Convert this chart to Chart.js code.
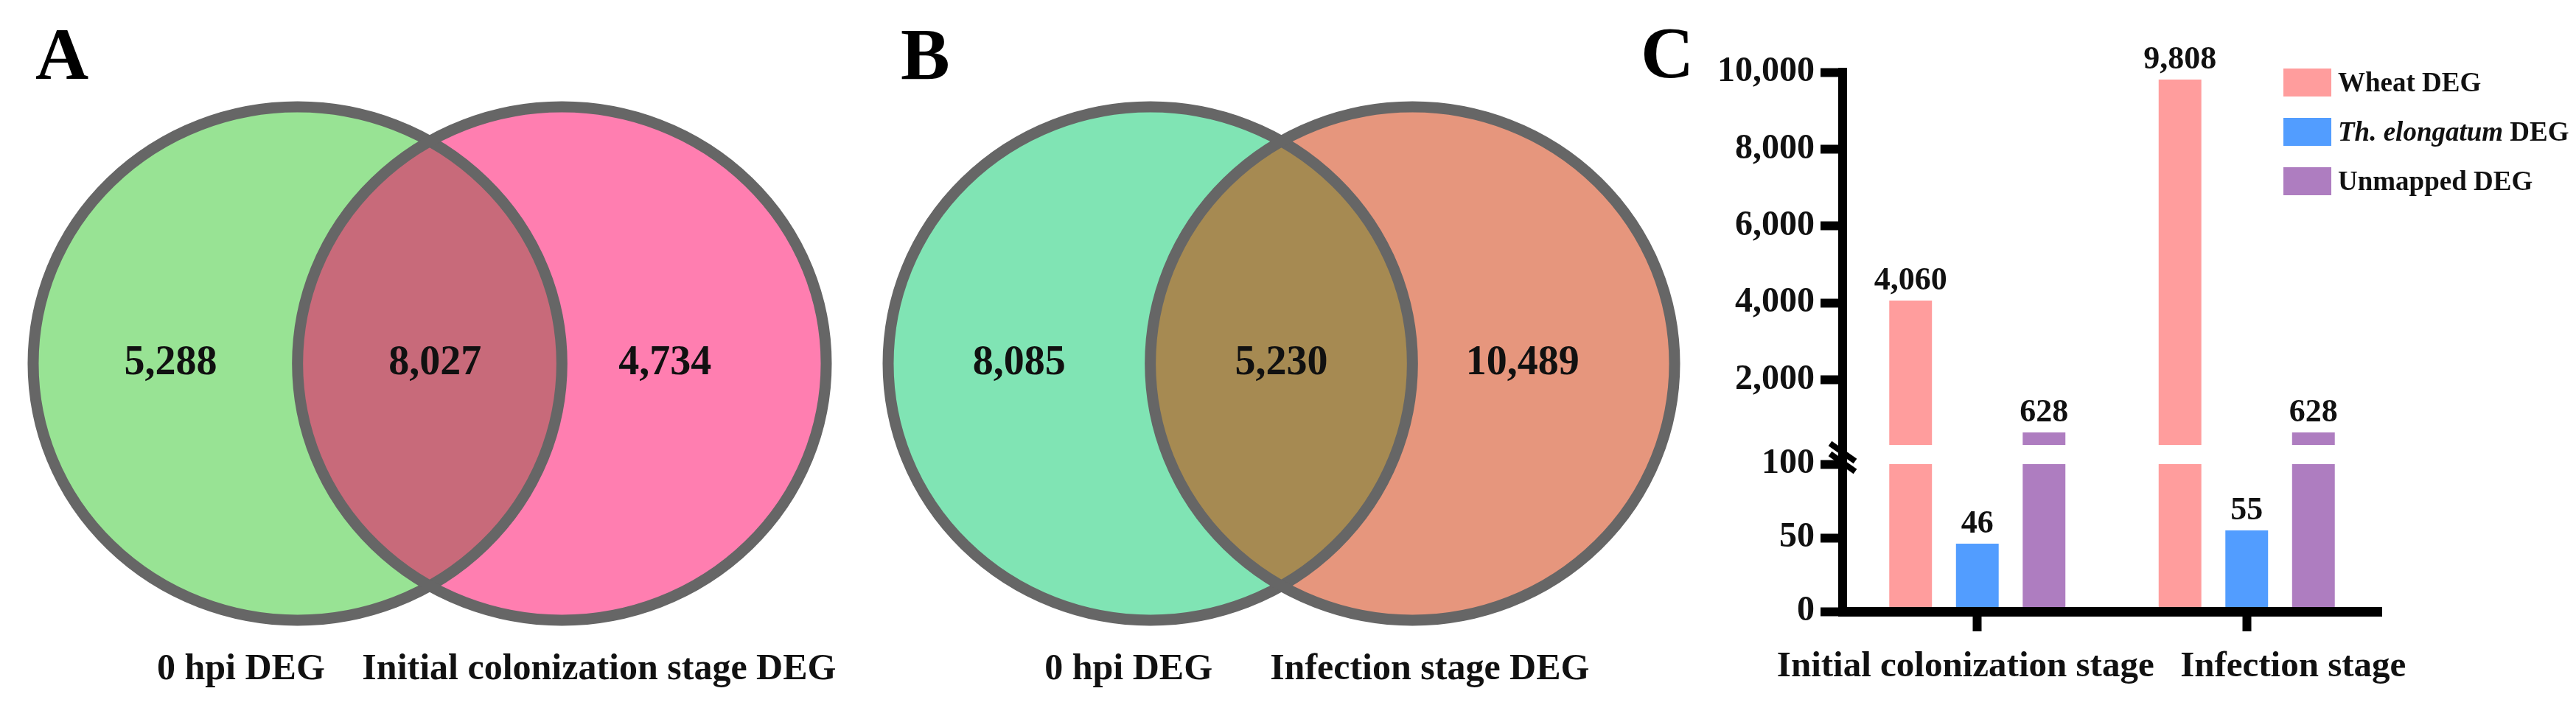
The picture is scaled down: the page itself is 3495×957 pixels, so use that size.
<!DOCTYPE html>
<html>
<head>
<meta charset="utf-8">
<script src="https://cdn.jsdelivr.net/npm/chart.js@4.4.1/dist/chart.umd.min.js"></script>
<style>
  html, body { margin: 0; padding: 0; background: #fff; width: 3495px; height: 957px; overflow: hidden; }
  .box { position: absolute; top: 0; }
  .letter { position: absolute; font-family: 'Liberation Serif', 'Times New Roman', serif; font-weight: bold; font-size: 100px; line-height: 100px; color: #000; }
</style>
</head>
<body>
<div class="letter" style="left:48px; top:24px;">A</div>
<div class="letter" style="left:1222px; top:24px;">B</div>
<div class="letter" style="left:2226px; top:22px;">C</div>
<div class="box" style="left:0px; width:1190px; height:957px;"><canvas id="vennA" width="1190" height="957"></canvas></div>
<div class="box" style="left:1190px; width:1100px; height:957px;"><canvas id="vennB" width="1100" height="957"></canvas></div>
<div class="box" style="left:2290px; width:1205px; height:957px;"><canvas id="bars" width="1205" height="957"></canvas></div>
<script>
// ---------------- DATA ----------------
// Venn A: [only 0 hpi, shared, only Initial colonization stage]
const vennA_sets = ['0 hpi DEG', 'Initial colonization stage DEG'];
const vennA_counts = [5288, 8027, 4734];
// Venn B: [only 0 hpi, shared, only Infection stage]
const vennB_sets = ['0 hpi DEG', 'Infection stage DEG'];
const vennB_counts = [8085, 5230, 10489];

// Bar chart C
const categories = ['Initial colonization stage', 'Infection stage'];
const seriesNames = ['Wheat DEG', 'Th. elongatum DEG', 'Unmapped DEG'];
const wheatDEG = [4060, 9808];
const elongatumDEG = [46, 55];
const unmappedDEG = [628, 628];
const yTickValues = [0, 50, 100, 2000, 4000, 6000, 8000, 10000];
const yTickLabels = ['0', '50', '100', '2,000', '4,000', '6,000', '8,000', '10,000'];

// ---------------- STYLE / LAYOUT ----------------
const SERIF = "'Liberation Serif', 'Times New Roman', serif";
const fmt = v => v.toLocaleString('en-US');

// ---------- Venn plugin (geometry in unit-radius data space via the chart's scales) ----------
function vennPlugin(cfg) {
  return {
    id: 'venn_' + cfg.key,
    afterDraw(chart) {
      const { ctx, scales: { x, y } } = chart;
      const rx = Math.abs(x.getPixelForValue(1) - x.getPixelForValue(0));
      const ry = Math.abs(y.getPixelForValue(1) - y.getPixelForValue(0));
      const cy = y.getPixelForValue(0);
      const cL = x.getPixelForValue(-0.5);
      const cR = x.getPixelForValue(0.5);
      const ell = (cx) => { ctx.beginPath(); ctx.ellipse(cx, cy, rx, ry, 0, 0, Math.PI * 2); };
      ctx.save();
      ell(cL); ctx.fillStyle = cfg.colors[0]; ctx.fill();
      ell(cR); ctx.fillStyle = cfg.colors[2]; ctx.fill();
      ctx.save(); ell(cL); ctx.clip(); ell(cR); ctx.fillStyle = cfg.colors[1]; ctx.fill(); ctx.restore();
      ctx.lineWidth = cfg.stroke; ctx.strokeStyle = cfg.strokeColor;
      ell(cL); ctx.stroke(); ell(cR); ctx.stroke();
      // counts
      ctx.fillStyle = '#111';
      ctx.font = 'bold 56px ' + SERIF;
      ctx.textAlign = 'center'; ctx.textBaseline = 'middle';
      cfg.counts.forEach((c, i) => {
        ctx.fillText(fmt(c), x.getPixelForValue(cfg.countX[i]), y.getPixelForValue(0));
      });
      // set labels
      ctx.font = 'bold 50px ' + SERIF;
      ctx.textBaseline = 'alphabetic';
      cfg.sets.forEach((s, i) => {
        ctx.fillText(s, x.getPixelForValue(cfg.labelX[i]), y.getPixelForValue(cfg.labelY));
      });
      ctx.restore();
    }
  };
}

function makeVenn(id, pad, cfg) {
  return new Chart(document.getElementById(id), {
    type: 'scatter',
    data: { datasets: [] },
    options: {
      responsive: false, animation: false, events: [], devicePixelRatio: 1,
      layout: { padding: pad },
      scales: {
        x: { type: 'linear', display: false, min: -1.5, max: 1.5 },
        y: { type: 'linear', display: false, min: -1, max: 1 }
      },
      plugins: { legend: { display: false }, tooltip: { enabled: false } }
    },
    plugins: [vennPlugin(cfg)]
  });
}

makeVenn('vennA', { left: 45, right: 69, top: 145, bottom: 115 }, {
  key: 'A', sets: vennA_sets, counts: vennA_counts,
  colors: ['#98E394', '#C86A7A', '#FF7EB0'], stroke: 15, strokeColor: '#666666',
  countX: [-0.98, 0.02, 0.89], labelX: [-0.714, 0.641], labelY: -1.23
});
makeVenn('vennB', { left: 15, right: 18, top: 145, bottom: 115 }, {
  key: 'B', sets: vennB_sets, counts: vennB_counts,
  colors: ['#80E4B4', '#A68A52', '#E6967D'], stroke: 15, strokeColor: '#666666',
  countX: [-1.0, 0.0, 0.92], labelX: [-0.583, 0.566], labelY: -1.23
});

// ---------- Broken y axis scale ----------
const breakCfg = { lowMax: 100, highMin: 300, lowFrac: 0.2732, gapFrac: 0.0355 };
class BrokenScale extends Chart.LinearScale {
  buildTicks() { return yTickValues.map(v => ({ value: v })); }
  getPixelForValue(v) {
    const b = breakCfg, top = this.top, bottom = this.bottom, h = bottom - top;
    const lowH = h * b.lowFrac, gapH = h * b.gapFrac, highH = h - lowH - gapH;
    if (v <= b.lowMax) return bottom - (v - this.min) / (b.lowMax - this.min) * lowH;
    if (v < b.highMin) return bottom - lowH - (v - b.lowMax) / (b.highMin - b.lowMax) * gapH;
    return bottom - lowH - gapH - (v - b.highMin) / (this.max - b.highMin) * highH;
  }
  getValueForPixel(p) {
    const b = breakCfg, top = this.top, bottom = this.bottom, h = bottom - top;
    const lowH = h * b.lowFrac, gapH = h * b.gapFrac, highH = h - lowH - gapH;
    const d = bottom - p;
    if (d <= lowH) return this.min + d / lowH * (b.lowMax - this.min);
    if (d <= lowH + gapH) return b.lowMax + (d - lowH) / gapH * (b.highMin - b.lowMax);
    return b.highMin + (d - lowH - gapH) / highH * (this.max - b.highMin);
  }
}
BrokenScale.id = 'broken';
BrokenScale.defaults = Chart.LinearScale.defaults;
Chart.register(BrokenScale);

const barColors = ['#FF9D9D', '#529DFF', '#AE7DC0'];
const xLabelShift = [-16, 63];
const italicPart = { 1: 'Th. elongatum' };

const barExtras = {
  id: 'barExtras',
  afterDatasetsDraw(chart) {
    const { ctx, chartArea, scales: { y } } = chart;
    ctx.save();
    // white gap through bars at the axis break
    const yHi = y.getPixelForValue(breakCfg.highMin), yLo = y.getPixelForValue(breakCfg.lowMax);
    ctx.fillStyle = '#fff';
    ctx.fillRect(chartArea.left + 7, yHi, chartArea.right - chartArea.left, yLo - yHi);
    // value labels
    ctx.fillStyle = '#111';
    ctx.font = 'bold 44px ' + SERIF;
    ctx.textAlign = 'center'; ctx.textBaseline = 'alphabetic';
    chart.data.datasets.forEach((ds, di) => {
      chart.getDatasetMeta(di).data.forEach((bar, i) => {
        ctx.fillText(fmt(ds.data[i]), bar.x, bar.y - 15);
      });
    });
    ctx.restore();
  },
  afterDraw(chart) {
    const { ctx, chartArea, scales: { x, y } } = chart;
    ctx.save();
    // axis break marks
    const yb = (y.getPixelForValue(breakCfg.highMin) + y.getPixelForValue(breakCfg.lowMax)) / 2 + 4;
    const xb = chartArea.left;
    ctx.strokeStyle = '#000'; ctx.lineWidth = 8; ctx.lineCap = 'butt';
    [-7, 7].forEach(o => {
      ctx.beginPath(); ctx.moveTo(xb - 17, yb + o - 12); ctx.lineTo(xb + 17, yb + o + 12); ctx.stroke();
    });
    // category labels
    ctx.fillStyle = '#111';
    ctx.font = 'bold 49px ' + SERIF;
    ctx.textAlign = 'center'; ctx.textBaseline = 'alphabetic';
    categories.forEach((c, i) => {
      ctx.fillText(c, x.getPixelForTick(i) + xLabelShift[i], chartArea.bottom + 88);
    });
    // legend
    const lx = chartArea.right - 133, ly0 = chartArea.top - 5, pitch = 67;
    ctx.textAlign = 'left'; ctx.textBaseline = 'middle';
    seriesNames.forEach((name, i) => {
      const ty = ly0 + i * pitch;
      ctx.fillStyle = barColors[i];
      ctx.fillRect(lx, ty, 65, 38);
      ctx.fillStyle = '#111';
      let tx = lx + 74;
      const cyy = ty + 21;
      const it = italicPart[i];
      if (it && name.startsWith(it)) {
        ctx.font = 'italic bold 37px ' + SERIF;
        ctx.fillText(it, tx, cyy);
        tx += ctx.measureText(it).width;
        ctx.font = 'bold 37px ' + SERIF;
        ctx.fillText(name.slice(it.length), tx, cyy);
      } else {
        ctx.font = 'bold 37px ' + SERIF;
        ctx.fillText(name, tx, cyy);
      }
    });
    ctx.restore();
  }
};

new Chart(document.getElementById('bars'), {
  type: 'bar',
  data: {
    labels: categories,
    datasets: [
      { label: seriesNames[0], data: wheatDEG, backgroundColor: barColors[0] },
      { label: seriesNames[1], data: elongatumDEG, backgroundColor: barColors[1] },
      { label: seriesNames[2], data: unmappedDEG, backgroundColor: barColors[2] }
    ]
  },
  options: {
    responsive: false, animation: false, events: [], devicePixelRatio: 1,
    datasets: { bar: { categoryPercentage: 0.743, barPercentage: 0.64 } },
    layout: { padding: { top: 98, right: 264, left: 0, bottom: 0 } },
    scales: {
      x: {
        type: 'category', offset: true,
        grid: { display: true, drawOnChartArea: false, offset: false, drawTicks: true, tickLength: 27, tickWidth: 12, tickColor: '#000', z: 1 },
        border: { display: true, width: 13, color: '#000', z: 1 },
        ticks: { display: false },
        afterFit(s) { s.height = 127; }
      },
      y: {
        type: 'broken', min: 0, max: 10000,
        grid: { display: true, drawOnChartArea: false, drawTicks: true, tickLength: 30, tickWidth: 12, tickColor: '#000', z: 1 },
        border: { display: true, width: 12, color: '#000', z: 1 },
        ticks: {
          autoSkip: false, padding: 8, color: '#111',
          font: { family: SERIF, size: 48, weight: 'bold' },
          callback: (v, i) => yTickLabels[i]
        },
        afterFit(s) { s.width = 210; }
      }
    },
    plugins: { legend: { display: false }, tooltip: { enabled: false } }
  },
  plugins: [barExtras]
});
</script>
</body>
</html>
